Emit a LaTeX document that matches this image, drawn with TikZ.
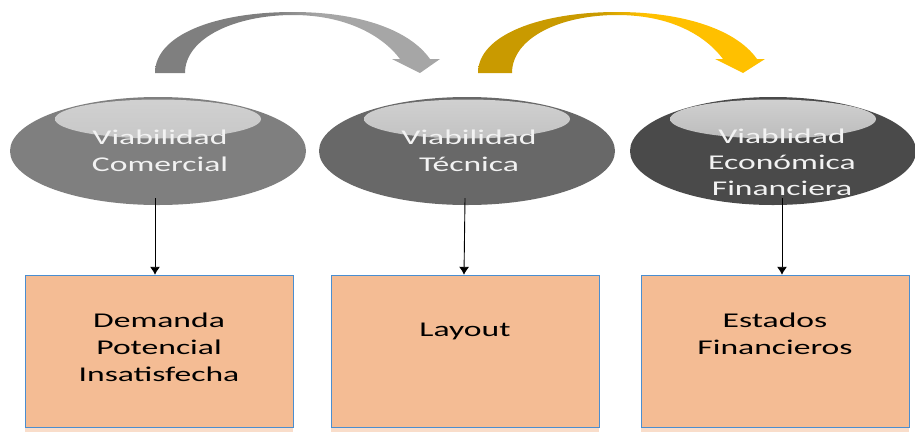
\documentclass[tikz,border=0pt]{standalone}
\usepackage{fontspec}
\setmainfont[FakeStretch=1.6]{Carlito}
\usetikzlibrary{positioning,shapes,arrows.meta,calc}

\definecolor{arcgrayA}{HTML}{7F7F7F}
\definecolor{arcgrayB}{HTML}{A6A6A6}
\definecolor{arcgoldA}{HTML}{C99A00}
\definecolor{arcgoldB}{HTML}{FFC000}
\definecolor{ellA}{HTML}{7F7F7F}
\definecolor{ellB}{HTML}{686868}
\definecolor{ellC}{HTML}{4A4A4A}
\definecolor{peach}{HTML}{F4BC94}
\definecolor{peachlight}{HTML}{F9DDCA}
\definecolor{boxline}{HTML}{4A8ED0}

\pgfdeclarehorizontalshading{grayarc}{100bp}{color(0bp)=(arcgrayA); color(46bp)=(arcgrayA); color(54bp)=(arcgrayB); color(100bp)=(arcgrayB)}
\pgfdeclarehorizontalshading{goldarc}{100bp}{color(0bp)=(arcgoldA); color(46bp)=(arcgoldA); color(54bp)=(arcgoldB); color(100bp)=(arcgoldB)}

\begin{document}
\begin{tikzpicture}[x=1pt, y=-1pt,
    oval/.style={ellipse, inner sep=0pt, minimum width=296pt, minimum height=108pt,
        path picture={\shade[top color=white!82!black, bottom color=#1!55!white]
            ([yshift=32pt]path picture bounding box.center) ellipse [x radius=103pt, y radius=19.5pt];},
        fill=#1},
    ovaltext/.style={align=center, inner sep=0pt, text=white!95!black, font=\fontsize{21}{27}\selectfont},
    box/.style={rectangle, draw=boxline, fill=peach, minimum width=268pt, minimum height=152pt, inner sep=0pt},
    boxtext/.style={align=center, inner sep=0pt, font=\fontsize{21}{27}\selectfont},
    strip/.style={fill=peachlight},
    arrow/.style={-{Latex[length=8pt,width=10pt]}, line width=0.9pt}
]
    \useasboundingbox (0,0) rectangle (915,432);

    % curved arrows on top
    \shade[shading=grayarc] (155,73) -- (185,73)
        .. controls (185,38) and (235,15) .. (293,15)
        .. controls (345,15) and (382,35) .. (400,59) -- (392,59) -- (420,73) -- (440,59) -- (430,59)
        .. controls (408,28) and (355,12) .. (293,12)
        .. controls (215,12) and (155,35) .. (155,73) -- cycle;
    \shade[shading=goldarc] (478,73) -- (512,73)
        .. controls (512,38) and (560,15) .. (617,15)
        .. controls (670,15) and (705,35) .. (723,59) -- (715,59) -- (743,73) -- (765,59) -- (757,59)
        .. controls (735,28) and (680,12) .. (617,12)
        .. controls (540,12) and (478,35) .. (478,73) -- cycle;

    % ellipses
    \node[oval=ellA] (comercial01) at (158,151) {};
    \node[oval=ellB] (tecnica01) at (467,151) {};
    \node[oval=ellC, minimum width=286pt] (economica01) at (773,151) {};

    \node[ovaltext] (comercialtxt) at (160,151) {Viabilidad\\Comercial};
    \node[ovaltext] (tecnicatxt) at (469,151) {Viabilidad\\Técnica};
    \node[ovaltext, font=\fontsize{21}{26}\selectfont] (economicatxt) at (782,162) {Viablidad\\Económica\\Financiera};

    % boxes
    \fill[strip] (25,427) rectangle (293,432);
    \fill[strip] (331,427) rectangle (599,432);
    \fill[strip] (641,427) rectangle (909,432);
    \node[box] (demanda01) at (159,351) {};
    \node[box] (layout01) at (465,351) {};
    \node[box] (estados01) at (775,351) {};

    \node[boxtext, below=38pt of demanda01.north] (demandatxt) {Demanda\\Potencial\\Insatisfecha};
    \node[boxtext, below=48pt of layout01.north] (layouttxt) {Layout};
    \node[boxtext, below=38pt of estados01.north] (estadostxt) {Estados\\Financieros};

    \draw[arrow] ([xshift=-3pt,yshift=7pt]comercial01.south) -- ([xshift=-4pt]demanda01.north);
    \draw[arrow] ([xshift=-2pt,yshift=7pt]tecnica01.south) -- ([xshift=-1pt]layout01.north);
    \draw[arrow] ([xshift=9pt,yshift=7pt]economica01.south) -- ([xshift=7pt]estados01.north);
\end{tikzpicture}
\end{document}
